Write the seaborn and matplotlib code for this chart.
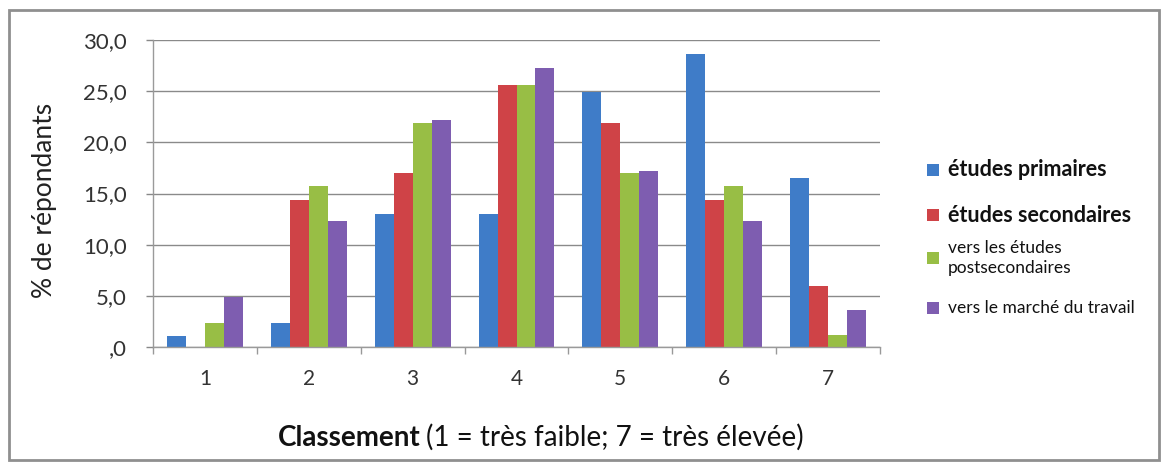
import matplotlib
matplotlib.use("Agg")
import matplotlib.pyplot as plt
from matplotlib.patches import Rectangle
from matplotlib.ticker import FixedLocator
import seaborn as sns
import pandas as pd

# Survey results: % of respondents per rating (1 = very low, 7 = very high)
ratings = ["1", "2", "3", "4", "5", "6", "7"]
series_names = [
    "études primaires",
    "études secondaires",
    "vers les études\npostsecondaires",
    "vers le marché du travail",
]
primaires = [1.1, 2.3, 13.0, 13.0, 24.9, 28.6, 16.5]
secondaires = [0.0, 14.4, 17.0, 25.6, 21.9, 14.4, 6.0]
postsecondaires = [2.3, 15.7, 21.9, 25.6, 17.0, 15.7, 1.2]
marche_travail = [4.9, 12.3, 22.2, 27.3, 17.2, 12.3, 3.6]
y_ticks = [0, 5, 10, 15, 20, 25, 30]
y_tick_labels = [",0", "5,0", "10,0", "15,0", "20,0", "25,0", "30,0"]
colors = ["#3F7CC8", "#CF4347", "#98BE45", "#7E5DB0"]

rows = []
for name, vals in zip(series_names, [primaires, secondaires, postsecondaires, marche_travail]):
    for r, v in zip(ratings, vals):
        rows.append({"Classement": r, "Série": name, "Valeur": v})
df = pd.DataFrame(rows)

sns.set_theme(style="white")
plt.rcParams["font.family"] = ["Lato", "DejaVu Sans"]

W, H = 1164, 466
fig = plt.figure(figsize=(W / 100, H / 100), dpi=100)
ax = fig.add_axes([153 / W, 1 - 347 / H, 727 / W, 307 / H])

sns.barplot(data=df, x="Classement", y="Valeur", hue="Série",
            order=ratings, hue_order=series_names, palette=colors,
            width=0.73, gap=0, saturation=1, errorbar=None,
            edgecolor="none", linewidth=0, ax=ax, legend=False)

ax.set_xlim(-0.5, 6.5)
ax.set_ylim(0, 30)
ax.set_yticks(y_ticks)
ax.set_yticklabels(y_tick_labels, fontsize=16, color="#333333")
ax.tick_params(axis="x", labelsize=15, labelcolor="#333333", length=0, pad=16)
ax.tick_params(axis="y", length=5, width=1, color="#888888", pad=14, left=True)
ax.xaxis.set_minor_locator(FixedLocator([i + 0.5 for i in range(-1, 7)]))
ax.tick_params(axis="x", which="minor", length=5, width=1, color="#999999", bottom=True)

ax.yaxis.grid(True, color="#8a8a8a", linewidth=1)
ax.set_axisbelow(True)
for side in ["top", "right"]:
    ax.spines[side].set_visible(False)
for side in ["left", "bottom"]:
    ax.spines[side].set_color("#9a9a9a")
    ax.spines[side].set_linewidth(1)

ax.set_ylabel("")
ax.set_xlabel("")
fig.text(45 / W, 1 - 200 / H, "% de répondants", fontsize=19, color="#222222",
         rotation=90, ha="center", va="center")

# Axis title: bold keyword followed by the scale explanation
fig.text(421 / W, 1 - 446 / H, "Classement", fontsize=20, fontweight="bold",
         color="#111111", ha="right", va="baseline")
fig.text(426 / W, 1 - 446 / H, "(1 = très faible; 7 = très élevée)", fontsize=20,
         color="#111111", ha="left", va="baseline")

# Legend on the right side
legend_y = [170, 215, 258, 308]
for i, (name, c, yc) in enumerate(zip(series_names, colors, legend_y)):
    fig.patches.append(Rectangle((927 / W, 1 - (yc + 6) / H), 12 / W, 12 / H,
                                 transform=fig.transFigure, facecolor=c,
                                 edgecolor="none"))
    if i < 2:
        fig.text(948 / W, 1 - yc / H, name, fontsize=15.5, fontweight="bold",
                 color="#111111", ha="left", va="center")
    else:
        fig.text(948 / W, 1 - yc / H, name, fontsize=12.5, color="#111111",
                 ha="left", va="center", linespacing=1.3)

# Chart frame
fig.patches.append(Rectangle((9 / W, 6 / H), 1150 / W, 450 / H, transform=fig.transFigure,
                             fill=False, edgecolor="#8f8f8f", linewidth=2))

fig.savefig("out.png", dpi=100, facecolor="white")
